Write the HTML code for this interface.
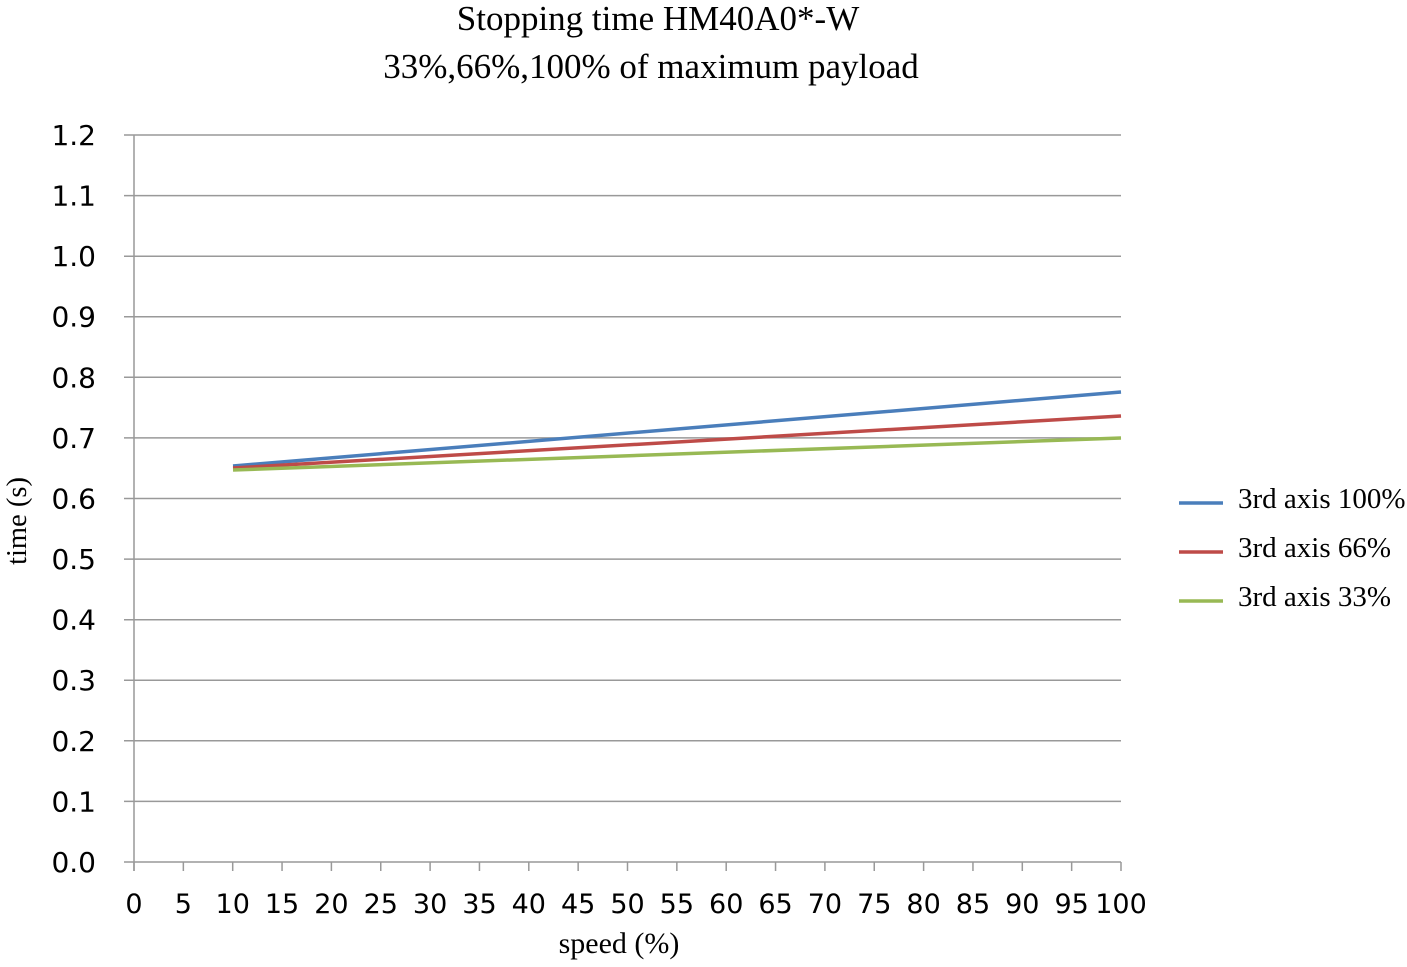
<!DOCTYPE html>
<html><head><style>body{margin:0;background:#fff}</style></head><body>
<svg width="1407" height="962" xmlns="http://www.w3.org/2000/svg">
<g font-family="Liberation Serif, serif" font-size="35" fill="#000" text-anchor="middle">
<text x="658" y="30">Stopping time HM40A0*-W</text>
<text x="651" y="78">33%,66%,100% of maximum payload</text>
<text x="619" y="953" font-size="30">speed (%)</text>
<text transform="translate(26,521) rotate(-90)" font-size="28.5">time (s)</text>
</g>
<g stroke="#999" stroke-width="1.5" fill="none">
<line x1="124" y1="135" x2="1121" y2="135"/><line x1="124" y1="195.6" x2="1121" y2="195.6"/>
<line x1="124" y1="256.2" x2="1121" y2="256.2"/><line x1="124" y1="316.7" x2="1121" y2="316.7"/>
<line x1="124" y1="377.3" x2="1121" y2="377.3"/><line x1="124" y1="437.9" x2="1121" y2="437.9"/>
<line x1="124" y1="498.5" x2="1121" y2="498.5"/><line x1="124" y1="559.1" x2="1121" y2="559.1"/>
<line x1="124" y1="619.7" x2="1121" y2="619.7"/><line x1="124" y1="680.2" x2="1121" y2="680.2"/>
<line x1="124" y1="740.8" x2="1121" y2="740.8"/><line x1="124" y1="801.4" x2="1121" y2="801.4"/>
<line x1="124" y1="862" x2="1121" y2="862"/>
<line x1="134" y1="135" x2="134" y2="871"/>
</g>
<g stroke="#999" stroke-width="1.5" id="xt"></g>
<g font-family="DejaVu Sans, Verdana, sans-serif" font-size="28" fill="#000" text-anchor="end">
<text x="96" y="145">1.2</text><text x="96" y="205.6">1.1</text><text x="96" y="266.2">1.0</text>
<text x="96" y="326.7">0.9</text><text x="96" y="387.3">0.8</text><text x="96" y="447.9">0.7</text>
<text x="96" y="508.5">0.6</text><text x="96" y="569.1">0.5</text><text x="96" y="629.7">0.4</text>
<text x="96" y="690.2">0.3</text><text x="96" y="750.8">0.2</text><text x="96" y="811.4">0.1</text>
<text x="96" y="872">0.0</text>
</g>
<g font-family="DejaVu Sans, Verdana, sans-serif" font-size="27" fill="#000" text-anchor="middle" id="xl"></g>
<g stroke-width="3.5" fill="none">
<line x1="233" y1="466" x2="1121" y2="392" stroke="#4a7ebb"/>
<line x1="233" y1="468" x2="1121" y2="416" stroke="#be4b48"/>
<line x1="233" y1="470" x2="1121" y2="438" stroke="#98b954"/>
<line x1="1179" y1="503" x2="1223" y2="503" stroke="#4a7ebb"/>
<line x1="1179" y1="552" x2="1223" y2="552" stroke="#be4b48"/>
<line x1="1179" y1="601" x2="1223" y2="601" stroke="#98b954"/>
</g>
<g font-family="Liberation Serif, serif" font-size="29" fill="#000">
<text x="1238" y="508">3rd axis 100%</text>
<text x="1238" y="557">3rd axis 66%</text>
<text x="1238" y="606">3rd axis 33%</text>
</g>
<script>
var xt=document.getElementById('xt'),xl=document.getElementById('xl'),ns='http://www.w3.org/2000/svg';
for(var i=0;i<=20;i++){var x=134+i*49.35;
var l=document.createElementNS(ns,'line');l.setAttribute('x1',x);l.setAttribute('x2',x);l.setAttribute('y1',862);l.setAttribute('y2',871);xt.appendChild(l);
var t=document.createElementNS(ns,'text');t.setAttribute('x',x);t.setAttribute('y',913);t.textContent=i*5;xl.appendChild(t);}
</script>
</svg>
</body></html>
